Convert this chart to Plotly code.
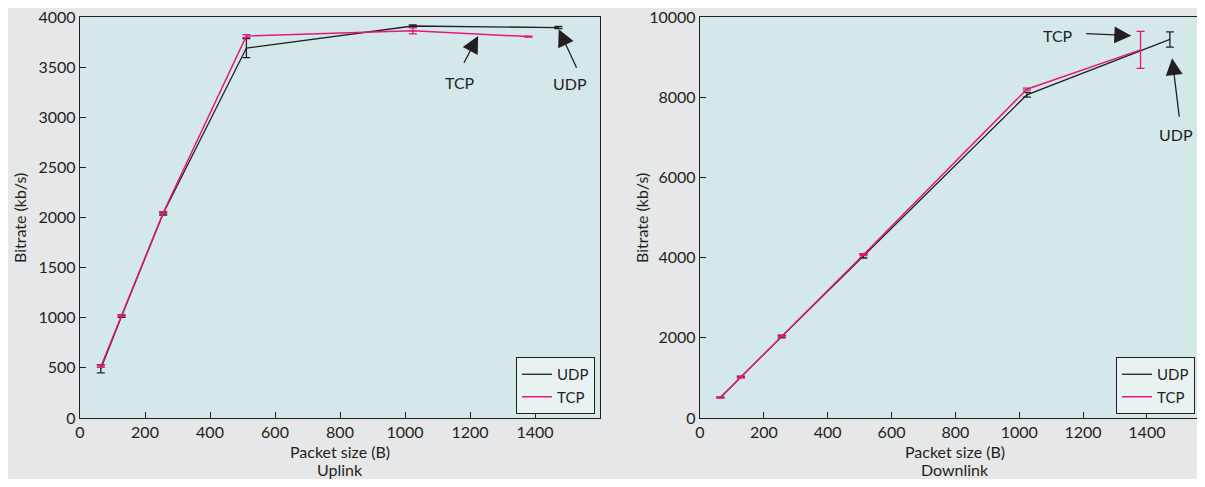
import plotly.graph_objects as go

# ---------------- data ----------------
up_udp_x = [64, 128, 256, 512, 1024, 1472]
up_udp_y = [490, 1015, 2040, 3690, 3910, 3895]
up_udp_err = [40, 12, 15, 95, 10, 10]

up_tcp_x = [64, 128, 256, 512, 1024, 1380]
up_tcp_y = [512, 1024, 2048, 3810, 3862, 3805]
up_tcp_err = [8, 8, 10, 15, 30, 5]

down_udp_x = [64, 128, 256, 512, 1024, 1472]
down_udp_y = [512, 1020, 2030, 4040, 8060, 9440]
down_udp_err = [10, 15, 30, 50, 60, 190]

down_tcp_x = [64, 128, 256, 512, 1024, 1380]
down_tcp_y = [512, 1024, 2048, 4070, 8200, 9180]
down_tcp_err = [10, 20, 20, 20, 25, 460]

x_ticks = [0, 200, 400, 600, 800, 1000, 1200, 1400]
up_y_ticks = [0, 500, 1000, 1500, 2000, 2500, 3000, 3500, 4000]
down_y_ticks = [0, 2000, 4000, 6000, 8000, 10000]

# ---------------- style ----------------
FONT = "Lato"
INK = "#231f20"
MAG = "#e5177b"
PLOT_BG = "#d5e8e9"
PAPER_BG = "#e6e7e8"

# the page puts the figure 8px in from the top-left corner
W, H = 1197, 471
ML, MR, MT, MB = 72, 0, 9, 61
PW = W - ML - MR
PH = H - MT - MB
OFF = 8


def px_x(p):  # page pixel -> paper x
    return (p - OFF - ML) / PW


def px_y(p):  # page pixel -> paper y
    return (H - MB - (p - OFF)) / PH


fig = go.Figure()


def add_series(x, y, err, name, color, width, xa, ya, legend):
    fig.add_trace(go.Scatter(
        x=x, y=y, mode="lines", name=name,
        line=dict(color=color, width=width),
        error_y=dict(type="data", array=err, color=color, thickness=1.3, width=4),
        xaxis=xa, yaxis=ya, legend=legend,
    ))


add_series(up_udp_x, up_udp_y, up_udp_err, "UDP", INK, 1.3, "x", "y", "legend")
add_series(up_tcp_x, up_tcp_y, up_tcp_err, "TCP", MAG, 1.5, "x", "y", "legend")
add_series(down_udp_x, down_udp_y, down_udp_err, "UDP", INK, 1.3, "x2", "y2", "legend2")
add_series(down_tcp_x, down_tcp_y, down_tcp_err, "TCP", MAG, 1.5, "x2", "y2", "legend2")

axis_common = dict(
    showline=True, linecolor=INK, linewidth=1.4, mirror=True,
    ticks="inside", ticklen=6, tickwidth=1.3, tickcolor=INK,
    showgrid=False, zeroline=False, tickformat="d",
    ticklabeloverflow="allow",
    tickfont=dict(family=FONT, size=16, color=INK),
)

legend_common = dict(
    xanchor="right", yanchor="bottom",
    bgcolor="#e9f2f3", bordercolor=INK, borderwidth=1,
    font=dict(family=FONT, size=15, color=INK),
    tracegroupgap=0, itemwidth=30,
)

fig.update_layout(
    width=W, height=H,
    margin=dict(l=ML, r=MR, t=MT, b=MB),
    paper_bgcolor=PAPER_BG, plot_bgcolor=PLOT_BG,
    font=dict(family=FONT, size=16, color=INK),
    xaxis=dict(domain=[0, px_x(600)], range=[0, 1600], tickvals=x_ticks, anchor="y", **axis_common),
    yaxis=dict(domain=[0, 1], range=[0, 4000], tickvals=up_y_ticks, anchor="x", **axis_common),
    xaxis2=dict(domain=[px_x(700), 1], range=[0, 1582], tickvals=x_ticks, anchor="y2", **axis_common),
    yaxis2=dict(domain=[0, 1], range=[0, 10000], tickvals=down_y_ticks, anchor="x2", **axis_common),
    legend=dict(x=px_x(595), y=px_y(414), **legend_common),
    legend2=dict(x=px_x(1195), y=px_y(414), **legend_common),
    showlegend=True,
)


def ptext(text, x, y, angle=0, size=16):
    fig.add_annotation(text=text, x=px_x(x), y=px_y(y), xref="paper", yref="paper",
                       showarrow=False, textangle=angle, xanchor="center", yanchor="middle",
                       font=dict(family=FONT, size=size, color=INK))


ptext("Packet size (B)", 340, 451)
ptext("Uplink", 340, 469)
ptext("Packet size (B)", 955, 451)
ptext("Downlink", 955, 469)
ptext("Bitrate (kb/s)", 19, 218, angle=-90)
ptext("Bitrate (kb/s)", 641, 218, angle=-90)


def arrow(xa, ya, x, y, ax, ay):
    fig.add_annotation(x=x, y=y, ax=ax, ay=ay, xref=xa, yref=ya, axref=xa, ayref=ya,
                       text="", showarrow=True, arrowhead=2, arrowsize=2.6,
                       arrowwidth=1.3, arrowcolor=INK)


def label(xa, ya, x, y, text):
    fig.add_annotation(x=x, y=y, xref=xa, yref=ya, text=text, showarrow=False,
                       font=dict(family=FONT, size=16, color=INK))


arrow("x", "y", 1225, 3810, 1179, 3528)
label("x", "y", 1169, 3348, "TCP")
arrow("x", "y", 1473, 3877, 1530, 3478)
label("x", "y", 1508, 3339, "UDP")

arrow("x2", "y2", 1351, 9535, 1205, 9585)
label("x2", "y2", 1121, 9535, "TCP")
arrow("x2", "y2", 1479, 8971, 1502, 7475)
label("x2", "y2", 1492, 7058, "UDP")

fig.write_html("out.html")
